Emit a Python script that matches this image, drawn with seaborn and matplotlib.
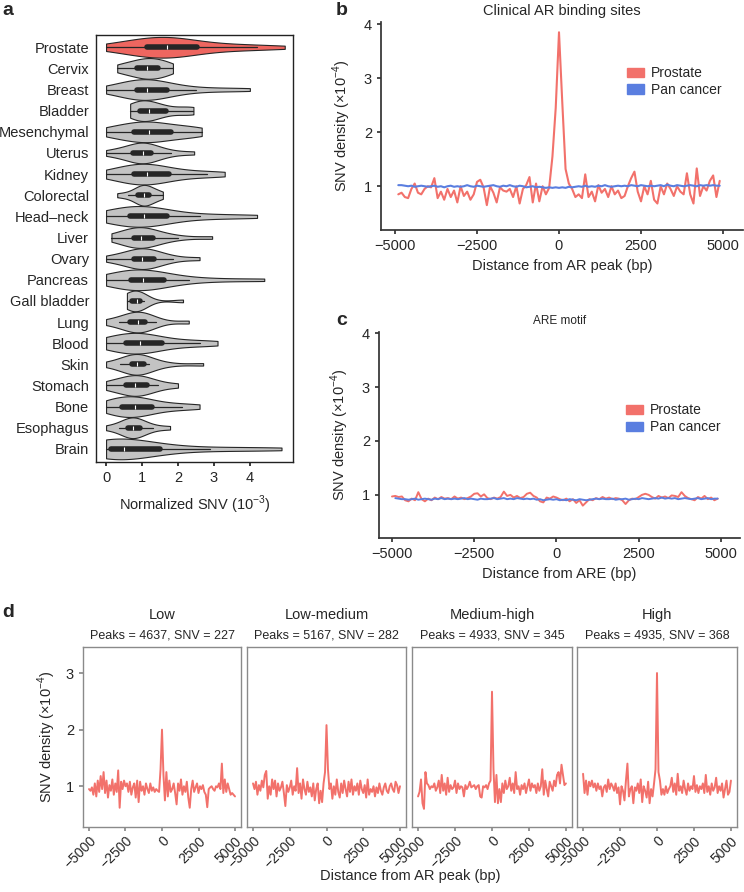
import numpy as np
import pandas as pd
import matplotlib
matplotlib.use("Agg")
import matplotlib.pyplot as plt
import seaborn as sns
from matplotlib.patches import Patch

sns.set_theme(style="ticks")
plt.rcParams["font.family"] = ["Liberation Sans", "DejaVu Sans"]
plt.rcParams["mathtext.fontset"] = "custom"
plt.rcParams["mathtext.rm"] = "Liberation Sans"
plt.rcParams["axes.unicode_minus"] = True

# ---------------- data: panel a ----------------
tissues = ["Prostate", "Cervix", "Breast", "Bladder", "Mesenchymal", "Uterus", "Kidney",
           "Colorectal", "Head\u2013neck", "Liver", "Ovary", "Pancreas", "Gall bladder",
           "Lung", "Blood", "Skin", "Stomach", "Bone", "Esophagus", "Brain"]
snv_prostate = [0.0, 0.3, 0.6, 0.8, 1.0, 1.1, 1.25, 1.4, 1.5, 1.6, 1.65, 1.75, 1.9, 2.05, 2.2, 2.35, 2.6, 2.9, 3.3, 3.8, 4.2, 4.97]
snv_cervix = [0.31, 0.5, 0.7, 0.85, 0.95, 1.05, 1.15, 1.25, 1.35, 1.45, 1.56, 1.7, 1.86]
snv_breast = [0.0, 0.35, 0.6, 0.8, 0.85, 0.95, 1.0, 1.08, 1.15, 1.25, 1.4, 1.5, 1.7, 2.0, 2.5, 3.2, 4.0]
snv_bladder = [0.67, 0.75, 0.85, 0.9, 1.0, 1.05, 1.1, 1.2, 1.3, 1.4, 1.55, 1.8, 2.25, 2.35, 2.43]
snv_mesenchymal = [0.0, 0.2, 0.45, 0.7, 0.85, 0.95, 1.08, 1.2, 1.35, 1.5, 1.7, 1.9, 2.2, 2.45, 2.66]
snv_uterus = [0.0, 0.3, 0.55, 0.7, 0.85, 0.95, 1.0, 1.05, 1.1, 1.15, 1.3, 1.5, 1.8, 2.45]
snv_kidney = [0.0, 0.3, 0.55, 0.7, 0.85, 0.95, 1.05, 1.15, 1.3, 1.45, 1.6, 1.9, 2.3, 2.8, 3.3]
snv_colorectal = [0.31, 0.6, 0.8, 0.9, 0.95, 1.0, 1.05, 1.1, 1.15, 1.2, 1.3, 1.45, 1.58]
snv_headneck = [0.0, 0.1, 0.3, 0.55, 0.7, 0.85, 0.95, 1.0, 1.1, 1.25, 1.38, 1.6, 2.0, 2.6, 3.3, 4.2]
snv_liver = [0.15, 0.4, 0.6, 0.75, 0.85, 0.9, 0.95, 1.0, 1.1, 1.2, 1.35, 1.6, 2.0, 2.95]
snv_ovary = [0.0, 0.3, 0.55, 0.75, 0.85, 0.92, 0.97, 1.05, 1.15, 1.25, 1.35, 1.55, 1.85, 2.6]
snv_pancreas = [0.0, 0.2, 0.4, 0.6, 0.72, 0.82, 0.9, 0.98, 1.08, 1.2, 1.3, 1.5, 1.9, 2.3, 3.2, 4.4]
snv_gallbladder = [0.58, 0.62, 0.7, 0.78, 0.83, 0.87, 0.9, 0.95, 1.05, 2.14]
snv_lung = [0.0, 0.35, 0.55, 0.7, 0.78, 0.85, 0.92, 1.0, 1.05, 1.2, 1.4, 2.3]
snv_blood = [0.0, 0.05, 0.25, 0.48, 0.65, 0.78, 0.85, 0.95, 1.05, 1.18, 1.4, 1.7, 2.1, 2.6, 3.1]
snv_skin = [0.0, 0.4, 0.65, 0.72, 0.78, 0.83, 0.87, 0.92, 0.98, 1.05, 1.2, 1.7, 2.7]
snv_stomach = [0.0, 0.15, 0.4, 0.62, 0.7, 0.75, 0.85, 0.95, 1.1, 1.25, 1.45, 2.0]
snv_bone = [0.0, 0.1, 0.25, 0.4, 0.55, 0.68, 0.75, 0.85, 0.98, 1.1, 1.35, 1.7, 2.1, 2.6]
snv_esophagus = [0.0, 0.35, 0.55, 0.62, 0.68, 0.72, 0.78, 0.85, 0.92, 1.05, 1.3, 1.78]
snv_brain = [0.0, 0.02, 0.05, 0.1, 0.15, 0.2, 0.25, 0.35, 0.5, 0.7, 0.95, 1.18, 1.5, 2.0, 2.9, 3.8, 4.88]
snv_lists = [snv_prostate, snv_cervix, snv_breast, snv_bladder, snv_mesenchymal, snv_uterus,
             snv_kidney, snv_colorectal, snv_headneck, snv_liver, snv_ovary, snv_pancreas,
             snv_gallbladder, snv_lung, snv_blood, snv_skin, snv_stomach, snv_bone,
             snv_esophagus, snv_brain]

# ---------------- data: panel b ----------------
b_x = list(range(-4900, 5000, 100))
b_prostate = [0.85, 0.88, 0.80, 0.78, 0.95, 1.05, 0.88, 0.85, 0.95, 1.00,
              0.98, 1.15, 0.78, 0.90, 0.75, 0.95, 0.80, 0.92, 0.70, 1.00,
              0.82, 0.90, 0.75, 0.85, 1.08, 1.12, 0.98, 0.65, 1.00, 0.88,
              0.70, 0.98, 0.92, 0.90, 0.95, 0.80, 1.00, 0.68, 0.95, 1.02,
              1.17, 0.70, 1.05, 0.72, 1.00, 0.85, 0.97, 1.55, 2.45,
              3.85,
              2.55, 1.32, 1.05, 0.95, 0.80, 0.85, 0.78, 1.22, 0.80,
              0.90, 0.72, 1.02, 0.88, 0.95, 0.80, 1.00, 0.85, 0.92, 0.78,
              0.82, 1.00, 1.15, 1.27, 0.90, 0.72, 1.00, 0.85, 1.10, 0.75,
              0.68, 1.00, 0.85, 1.05, 0.95, 0.82, 1.00, 0.90, 0.85, 1.24,
              0.85, 0.68, 1.33, 0.82, 1.00, 0.92, 1.10, 1.20, 0.80, 1.10]
b_pancancer = [1.02, 1.02, 1.01, 1.00, 1.01, 0.99, 1.00, 1.01, 1.00, 0.99,
               1.00, 1.01, 0.99, 1.00, 0.98, 1.00, 1.01, 0.99, 1.00, 0.99,
               1.00, 1.02, 1.00, 0.99, 1.01, 1.00, 0.99, 1.00, 1.01, 1.02,
               1.00, 0.99, 1.01, 1.00, 1.02, 1.00, 0.99, 1.01, 1.00, 0.98,
               0.99, 1.00, 0.98, 0.99, 0.98, 0.97, 0.98, 0.97, 0.98,
               0.97,
               0.98, 0.97, 0.99, 0.98, 0.99, 1.00, 0.99, 1.01, 0.99,
               1.00, 0.99, 1.01, 1.00, 1.02, 1.00, 0.99, 1.00, 1.01, 1.00,
               1.01, 1.00, 1.02, 1.01, 1.00, 1.02, 1.01, 1.00, 1.01, 1.00,
               1.01, 1.02, 1.00, 1.03, 1.01, 1.00, 1.02, 1.01, 1.00, 1.01,
               1.02, 1.01, 1.00, 1.02, 1.01, 1.02, 1.01, 1.02, 1.01, 1.01]

# ---------------- data: panel c ----------------
c_x = list(range(-5000, 5000, 100))
c_prostate = [0.97, 0.98, 0.96, 0.97, 0.90, 0.88, 0.93, 0.90, 1.05, 0.92,
              0.88, 0.93, 0.90, 0.95, 0.92, 0.96, 0.93, 0.94, 0.92, 0.97,
              0.93, 0.95, 0.92, 0.94, 0.97, 1.02, 1.03, 0.97, 1.01, 0.94,
              0.92, 0.95, 0.93, 0.96, 1.06, 0.98, 1.00, 0.95, 0.98, 0.94,
              0.96, 1.02, 1.04, 0.98, 0.95, 0.88, 0.86, 0.95, 0.93, 0.97,
              0.95, 0.92, 0.90, 0.93, 0.88, 0.92, 0.85, 0.90, 0.80, 0.86,
              0.92, 0.90, 0.94, 0.92, 0.96, 0.93, 0.95, 0.92, 0.94, 0.93,
              0.90, 0.83, 0.90, 0.93, 0.92, 0.96, 1.00, 1.02, 1.00, 0.96,
              0.93, 0.98, 0.95, 0.97, 0.94, 0.99, 0.98, 0.96, 1.05, 0.98,
              0.94, 0.92, 0.90, 0.96, 0.93, 0.98, 0.92, 0.95, 0.90, 0.93]
c_pancancer = [0.94, 0.94, 0.93, 0.92, 0.92, 0.91, 0.92, 0.93, 0.91, 0.92,
               0.93, 0.92, 0.91, 0.93, 0.92, 0.94, 0.92, 0.93, 0.92, 0.93,
               0.92, 0.93, 0.94, 0.92, 0.93, 0.92, 0.91, 0.93, 0.92, 0.92,
               0.93, 0.94, 0.92, 0.93, 0.94, 0.92, 0.93, 0.92, 0.94, 0.93,
               0.92, 0.93, 0.92, 0.93, 0.91, 0.92, 0.90, 0.91, 0.92, 0.91,
               0.92, 0.90, 0.91, 0.90, 0.92, 0.91, 0.90, 0.92, 0.91, 0.90,
               0.91, 0.92, 0.93, 0.92, 0.93, 0.92, 0.92, 0.93, 0.91, 0.92,
               0.92, 0.93, 0.91, 0.92, 0.93, 0.92, 0.94, 0.93, 0.92, 0.93,
               0.94, 0.93, 0.95, 0.93, 0.94, 0.93, 0.94, 0.92, 0.93, 0.94,
               0.93, 0.92, 0.93, 0.94, 0.92, 0.93, 0.94, 0.92, 0.93, 0.93]

# ---------------- data: panel d ----------------
d_x = list(range(-5000, 5100, 100))
d_groups = ["Low", "Low-medium", "Medium-high", "High"]
d_subtitles = ["Peaks = 4637, SNV = 227", "Peaks = 5167, SNV = 282",
               "Peaks = 4933, SNV = 345", "Peaks = 4935, SNV = 368"]
d_low = [0.95, 0.92, 0.98, 0.85, 1.05, 0.82, 1.10, 0.90, 1.18, 0.95,
         1.25, 0.88, 1.10, 0.80, 1.02, 0.92, 1.12, 0.85, 1.05, 0.90,
         1.28, 0.62, 1.08, 0.95, 1.10, 1.00, 1.05, 0.90, 1.08, 0.85,
         0.98, 1.05, 0.80, 1.10, 0.72, 1.08, 0.92, 1.00, 0.85, 1.05,
         0.95, 0.88, 1.05, 0.92, 0.98, 0.90, 0.95, 0.92, 0.90, 1.30,
         2.00,
         1.20, 0.75, 1.25, 0.82, 1.10, 0.90, 0.95, 1.05, 0.88, 0.68,
         1.05, 0.92, 1.12, 0.85, 1.00, 0.90, 1.08, 0.80, 0.62, 0.95,
         1.10, 0.90, 0.98, 1.05, 0.88, 1.00, 0.95, 1.02, 0.90, 0.85,
         0.63, 0.95, 0.98, 1.00, 0.95, 0.92, 1.00, 0.98, 1.05, 0.95,
         1.40, 0.88, 1.12, 0.90, 1.05, 0.95, 0.85, 0.88, 0.85, 0.82]
d_lowmed = [1.05, 0.95, 1.08, 0.85, 1.02, 0.92, 1.10, 0.98, 1.20, 1.27,
            0.78, 1.00, 0.85, 1.12, 0.95, 1.10, 0.82, 1.05, 0.92, 0.98,
            1.08, 0.88, 0.65, 1.02, 0.90, 0.98, 1.10, 0.85, 1.00, 0.92,
            1.32, 0.88, 1.05, 0.78, 1.12, 0.95, 0.85, 1.08, 0.90, 0.98,
            0.82, 1.05, 0.75, 0.95, 1.05, 0.70, 0.92, 0.72, 1.05, 1.25,
            2.08,
            1.30, 0.95, 1.05, 0.78, 1.00, 0.85, 1.12, 0.90, 0.80, 1.05,
            0.88, 1.10, 0.95, 0.82, 1.08, 0.90, 1.12, 0.85, 1.00, 0.92,
            1.05, 0.85, 1.10, 0.95, 0.88, 1.02, 0.80, 1.12, 0.85, 0.95,
            0.90, 1.00, 0.82, 0.98, 0.88, 1.05, 0.92, 0.85, 0.98, 1.05,
            0.92, 0.88, 1.00, 1.05, 0.95, 0.90, 1.08, 1.02, 0.88, 1.00]
d_medhigh = [0.82, 0.90, 1.12, 0.70, 0.60, 1.25, 1.05, 1.02, 0.95, 1.00,
             0.98, 1.05, 0.92, 0.98, 1.10, 0.88, 1.20, 0.92, 1.05, 0.85,
             1.15, 0.90, 1.02, 0.95, 0.98, 1.10, 0.88, 1.05, 0.95, 1.00,
             0.98, 0.82, 1.02, 0.95, 1.00, 1.08, 0.98, 1.00, 1.02, 0.95,
             1.00, 1.02, 0.82, 0.80, 1.00, 0.98, 1.02, 0.95, 1.05, 1.10,
             2.67,
             1.30, 0.72, 1.20, 0.70, 0.95, 0.72, 1.05, 0.88, 1.10, 0.95,
             1.00, 1.15, 0.92, 1.05, 0.88, 1.25, 0.95, 1.00, 0.85, 1.02,
             0.95, 1.05, 0.88, 1.00, 1.12, 0.92, 1.05, 0.98, 1.02, 0.88,
             1.05, 0.92, 1.00, 1.30, 0.85, 1.10, 0.95, 0.82, 1.08, 1.00,
             0.92, 1.10, 1.00, 1.20, 1.25, 1.05, 1.38, 1.20, 1.02, 1.05]
d_high = [1.22, 0.88, 1.10, 0.85, 1.08, 1.00, 1.10, 0.98, 1.05, 0.92,
          1.05, 0.95, 1.00, 0.82, 0.98, 1.02, 0.90, 1.12, 0.95, 1.05,
          1.00, 0.92, 1.05, 0.88, 0.98, 0.68, 1.00, 0.92, 0.75, 1.10,
          1.40, 0.82, 0.95, 1.00, 0.70, 0.98, 0.92, 1.05, 0.88, 1.12,
          0.72, 1.00, 0.92, 0.80, 1.08, 0.70, 0.95, 0.82, 1.05, 1.30,
          3.00,
          1.25, 1.10, 0.85, 0.95, 0.85, 1.00, 0.88, 0.95, 1.00, 1.15,
          0.90, 1.05, 0.85, 1.22, 0.92, 1.00, 0.88, 1.10, 0.95, 0.85,
          1.05, 0.92, 1.00, 0.95, 1.18, 0.90, 1.02, 0.88, 1.00, 0.95,
          1.05, 0.88, 1.20, 0.90, 1.00, 0.85, 1.05, 0.92, 0.98, 1.15,
          0.88, 1.00, 0.92, 1.05, 0.80, 0.95, 1.10, 0.85, 0.90, 1.10]
d_series = [d_low, d_lowmed, d_medhigh, d_high]

dist_ticks = [-5000, -2500, 0, 2500, 5000]
dist_ticklabels = ["\u22125000", "\u22122500", "0", "2500", "5000"]

RED = "#F2716B"
BLUE = "#5A7EE0"
FS = 10.5

# ---------------- figure ----------------
W, H = 744, 892
fig = plt.figure(figsize=(W / 100, H / 100), dpi=100)


def ax_px(x0, y0, x1, y1):
    return fig.add_axes([x0 / W, 1 - y1 / H, (x1 - x0) / W, (y1 - y0) / H])


# ---- panel a ----
rows = []
for t, vals in zip(tissues, snv_lists):
    for v in vals:
        rows.append({"tissue": t, "value": v})
df_a = pd.DataFrame(rows)
palette = {t: "#C3C3C3" for t in tissues}
palette["Prostate"] = "#EE6660"

axA = ax_px(96, 35, 293, 462)
sns.violinplot(data=df_a, x="value", y="tissue", hue="tissue", order=tissues,
               hue_order=tissues, palette=palette, legend=False, cut=0,
               inner="box", density_norm="width", width=0.98, linewidth=0.8,
               linecolor="#262626", bw_adjust=1.0, saturation=1,
               inner_kws=dict(box_width=4, whis_width=0.9, markersize=3.5),
               ax=axA)
axA.set_xlim(-0.28, 5.2)
axA.set_ylim(19.62, -0.58)
axA.set_xticks([0, 1, 2, 3, 4])
axA.set_xlabel("Normalized SNV (10$^{\\mathregular{-3}}$)", fontsize=FS, labelpad=6)
axA.set_ylabel("")
for s in axA.spines.values():
    s.set_visible(True)
    s.set_color("#222222")
    s.set_linewidth(1.0)
axA.tick_params(axis="y", length=0, pad=5, labelsize=FS)
axA.tick_params(axis="x", length=3, labelsize=FS, color="#222222")

# ---- panel b ----
axB = ax_px(381, 22, 743, 230)
sns.lineplot(x=b_x, y=b_prostate, ax=axB, color=RED, linewidth=1.5)
sns.lineplot(x=b_x, y=b_pancancer, ax=axB, color=BLUE, linewidth=1.5)
axB.set_xlim(-5427, 5610)
axB.set_ylim(0.19, 4.04)
axB.set_xticks(dist_ticks)
axB.set_xticklabels(dist_ticklabels)
axB.set_yticks([1, 2, 3, 4])
axB.set_xlabel("Distance from AR peak (bp)", fontsize=FS, labelpad=4)
axB.set_ylabel("SNV density (\u00d710$^{\\mathregular{-4}}$)", fontsize=FS, labelpad=8)
axB.set_title("Clinical AR binding sites", fontsize=FS, pad=5)
sns.despine(ax=axB)
for s in ["left", "bottom"]:
    axB.spines[s].set_color("#333333")
axB.tick_params(length=3, labelsize=FS, color="#333333")
handles = [Patch(color=RED, label="Prostate"), Patch(color=BLUE, label="Pan cancer")]
axB.legend(handles=handles, loc="upper left", bbox_to_anchor=(0.665, 0.815), frameon=False,
           fontsize=10, handlelength=1.2, handleheight=0.65, handletextpad=0.5,
           labelspacing=0.2, borderaxespad=0)

# ---- panel c ----
axC = ax_px(379, 332, 740, 538)
sns.lineplot(x=c_x, y=c_prostate, ax=axC, color=RED, linewidth=1.4)
sns.lineplot(x=c_x[1:], y=c_pancancer[1:], ax=axC, color=BLUE, linewidth=1.4)
axC.set_xlim(-5395, 5578)
axC.set_ylim(0.2, 4.02)
axC.set_xticks(dist_ticks)
axC.set_xticklabels(dist_ticklabels)
axC.set_yticks([1, 2, 3, 4])
axC.set_xlabel("Distance from ARE (bp)", fontsize=FS, labelpad=4)
axC.set_ylabel("SNV density (\u00d710$^{\\mathregular{-4}}$)", fontsize=FS, labelpad=8)
axC.set_title("ARE motif", fontsize=8.5, pad=6)
sns.despine(ax=axC)
for s in ["left", "bottom"]:
    axC.spines[s].set_color("#333333")
axC.tick_params(length=3, labelsize=FS, color="#333333")
axC.legend(handles=handles, loc="upper left", bbox_to_anchor=(0.67, 0.68), frameon=False,
           fontsize=10, handlelength=1.2, handleheight=0.65, handletextpad=0.5,
           labelspacing=0.2, borderaxespad=0)

# ---- panel d ----
d_boxes = [(83, 647, 241, 827), (247, 647, 406, 827), (412, 647, 572, 827), (577, 647, 737, 827)]
for i, (box, name, sub, ys) in enumerate(zip(d_boxes, d_groups, d_subtitles, d_series)):
    ax = ax_px(*box)
    sns.lineplot(x=d_x, y=ys, ax=ax, color=RED, linewidth=1.4)
    ax.set_xlim(-5410, 5410)
    ax.set_ylim(0.28, 3.46)
    ax.set_xticks(dist_ticks)
    ax.set_xticklabels(dist_ticklabels, rotation=45, ha="right", rotation_mode="anchor")
    for s in ax.spines.values():
        s.set_visible(True)
        s.set_color("#8a8a8a")
        s.set_linewidth(1.0)
    ax.tick_params(axis="x", length=3, color="#8a8a8a", labelsize=10, pad=2)
    if i == 0:
        ax.set_yticks([1, 2, 3])
        ax.tick_params(axis="y", length=3, color="#8a8a8a", labelsize=FS)
        ax.set_ylabel("SNV density (\u00d710$^{\\mathregular{-4}}$)", fontsize=FS, labelpad=6)
    else:
        ax.set_yticks([])
        ax.set_ylabel("")
    ax.set_xlabel("")
    ax.text(0.5, 1 + 32 / 180, name, transform=ax.transAxes, ha="center", va="center", fontsize=FS)
    ax.text(0.5, 1 + 12 / 180, sub, transform=ax.transAxes, ha="center", va="center", fontsize=9)

fig.text(410 / W, 1 - 876 / H, "Distance from AR peak (bp)", ha="center", va="center", fontsize=FS)

# panel letters
fig.text(2 / W, 1 - 2 / H, "a", ha="left", va="top", fontsize=14, fontweight="bold")
fig.text(336 / W, 1 - 2 / H, "b", ha="left", va="top", fontsize=14, fontweight="bold")
fig.text(336 / W, 1 - 312 / H, "c", ha="left", va="top", fontsize=14, fontweight="bold")
fig.text(2 / W, 1 - 604 / H, "d", ha="left", va="top", fontsize=14, fontweight="bold")

fig.savefig("out.png", dpi=100)
